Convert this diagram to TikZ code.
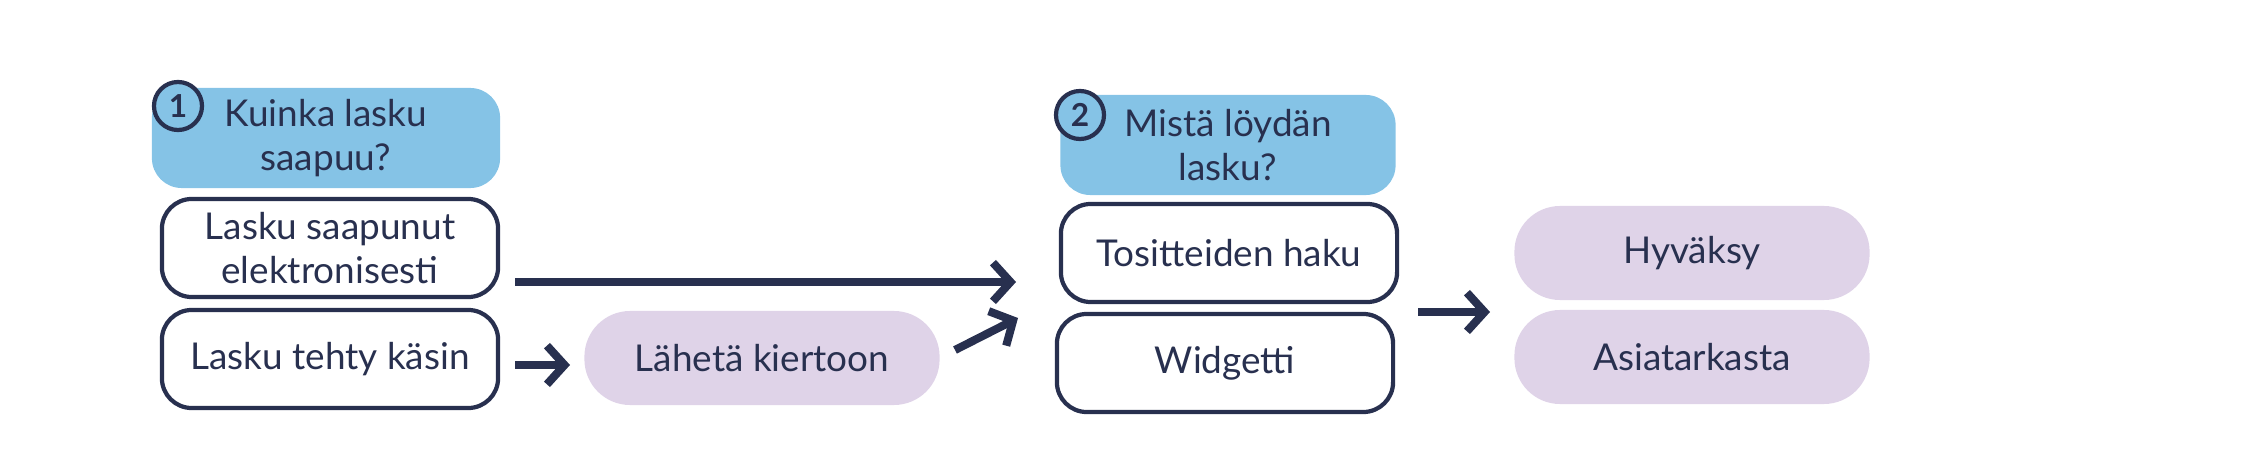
\documentclass[tikz,border=0pt]{standalone}
\usepackage{fontspec}
\setmainfont{Lato}
\usetikzlibrary{arrows.meta}
\definecolor{navy}{HTML}{28304F}
\definecolor{qblue}{HTML}{85C3E6}
\definecolor{lav}{HTML}{DFD3E8}
\begin{document}
\begin{tikzpicture}[x=0.01cm,y=-0.01cm,
  txt/.style={text=navy,font=\fontsize{10.5}{12.5}\selectfont,align=center},
  qbox/.style={txt,fill=qblue,rounded corners=8.5pt,minimum width=3.4cm,minimum height=1cm,inner sep=0pt},
  obox/.style={txt,fill=white,draw=navy,line width=1.2pt,rounded corners=8.5pt,minimum width=3.36cm,minimum height=0.98cm,inner sep=0pt},
  lbox/.style={txt,fill=lav,rounded corners=13pt,minimum width=3.55cm,minimum height=0.94cm,inner sep=0pt},
  num/.style={circle,fill=qblue,draw=navy,line width=1.2pt,minimum size=0.48cm,inner sep=0pt,text=navy,font=\bfseries\fontsize{9}{10}\selectfont},
  arr/.style={draw=navy,line width=2.3pt,-{Straight Barb[length=5pt,width=11pt]}}]
\useasboundingbox (0,0) rectangle (2245,473);
\node[qbox,minimum width=3.48cm] (q1) at (326,138) {Kuinka lasku\\saapuu?};
\node[num] (n1) at (178,106) {1};
\node[obox] (e1) at (330,248) {Lasku saapunut\\elektronisesti};
\node[obox] (k1) at (330,359) {Lasku tehty käsin};
\node[lbox] (l1) at (762,358) {Lähetä kiertoon};
\node[qbox,minimum width=3.35cm] (q2) at (1228,145) {Mistä löydän\\lasku?};
\node[num] (n2) at (1080,115) {2};
\node[obox] (t2) at (1229,253) {Tositteiden haku};
\node[obox] (w2) at (1225,363) {Widgetti};
\node[lbox] (h3) at (1692,253) {Hyväksy};
\node[lbox] (a3) at (1692,357) {Asiatarkasta};
\coordinate (a1s) at (515,282); \coordinate (a1e) at (1016,282);
\draw[arr] (a1s) -- (a1e);
\coordinate (a2s) at (515,365); \coordinate (a2e) at (570,365);
\draw[arr] (a2s) -- (a2e);
\coordinate (a3s) at (955,350); \coordinate (a3e) at (1018,318);
\draw[arr] (a3s) -- (a3e);
\coordinate (a4s) at (1418,312); \coordinate (a4e) at (1490,312);
\draw[arr] (a4s) -- (a4e);
\end{tikzpicture}
\end{document}
